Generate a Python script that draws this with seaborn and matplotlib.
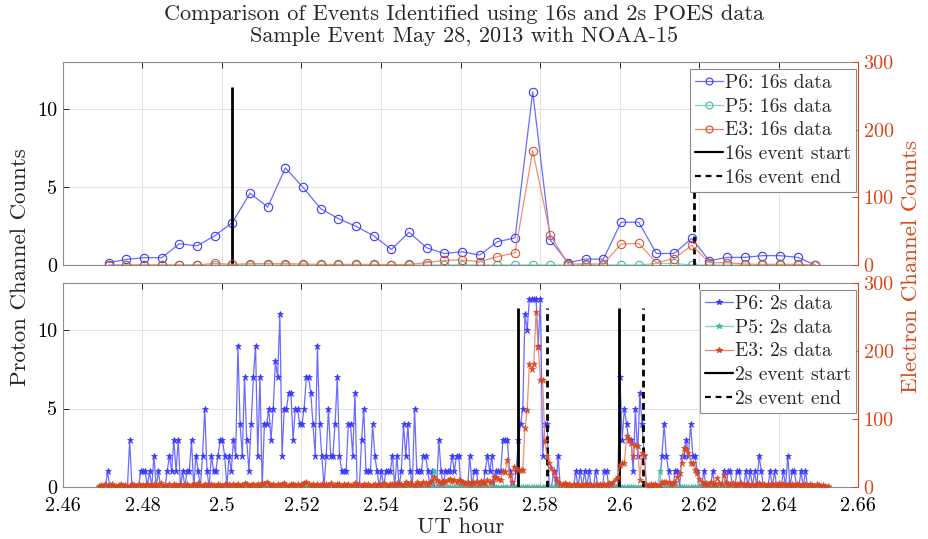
import numpy as np
import pandas as pd
import matplotlib
matplotlib.use("Agg")
import matplotlib.pyplot as plt
from matplotlib.lines import Line2D
import seaborn as sns

# ---------------- data ----------------
t0_16s = 2.4715          # first 16 s sample (UT hour)
step_16s = 16 / 3600.0
P6_16s = [0.15, 0.36, 0.47, 0.47, 1.36, 1.23, 1.87, 2.72, 4.6, 3.71,
          6.22, 4.97, 3.61, 2.97, 2.48, 1.87, 1.0, 2.1, 1.1, 0.74,
          0.85, 0.64, 1.49, 1.74, 11.08, 1.59, 0.15, 0.38, 0.38, 2.74,
          2.74, 0.74, 0.74, 1.7, 0.27, 0.49, 0.49, 0.6, 0.6, 0.49, 0.0]
P5_16s = [0, 0, 0, 0, 0, 0, 0, 0, 0, 0,
          0, 0, 0, 0, 0, 0, 0, 0, 0, 0,
          0, 0, 0, 0, 0, 0, 0, 0, 0, 0,
          0, 0.1, 0.1, 0, 0, 0, 0, 0, 0, 0, 0]
E3_16s = [0, 0, 0, 0, 0, 0, 2.5, 1, 2, 2,
          2, 1.5, 1, 1, 1, 1, 0.5, 1, 3.4, 7,
          7.4, 5, 12.3, 18, 169, 44, 1.5, 1.5, 1.5, 31,
          32, 3.4, 9.3, 29, 3.4, 3.4, 1.5, 1, 1, 1, 0]

t0_2s = 2.4690
step_2s = 2 / 3600.0
P6_2s = [0, 0, 0, 0, 1, 0, 0, 0, 0, 0,
         0, 0, 0, 0, 3, 0, 0, 0, 0, 1,
         1, 1, 0, 1, 0, 2, 0, 1, 0, 0,
         0, 1, 2, 1, 3, 1, 3, 0, 1, 0,
         1, 1, 3, 0, 2, 1, 0, 2, 5, 1,
         0, 2, 1, 1, 2, 3, 3, 2, 0, 2,
         1, 3, 2, 9, 4, 2, 7, 3, 1, 4,
         7, 9, 2, 7, 0, 4, 4, 5, 3, 5,
         8, 7, 11, 2, 5, 5, 6, 6, 3, 5,
         5, 4, 4, 5, 7, 7, 6, 4, 2, 9,
         4, 2, 0, 2, 5, 2, 2, 4, 7, 2,
         1, 1, 1, 4, 4, 2, 6, 0, 0, 3,
         5, 1, 1, 1, 4, 2, 1, 0, 1, 0,
         1, 1, 1, 2, 0, 2, 0, 1, 4, 2,
         4, 1, 0, 5, 1, 1, 1, 2, 2, 1,
         0, 1, 0, 0, 3, 1, 0, 1, 1, 1,
         2, 1, 2, 2, 0, 0, 0, 0, 2, 0,
         1, 1, 0, 0, 0, 1, 2, 1, 2, 0,
         1, 1, 1, 3, 3, 3, 1, 0, 0, 1,
         3, 4, 5, 11, 10, 12, 12, 12, 12, 9,
         12, 2, 4, 4, 0, 0, 1, 0, 2, 0,
         0, 0, 0, 0, 0, 0, 1, 0, 1, 0,
         1, 0, 1, 0, 0, 1, 0, 0, 0, 1,
         1, 0, 0, 0, 0, 0, 7, 3, 5, 4,
         3, 3, 1, 5, 2, 6, 4, 2, 0, 0,
         0, 0, 0, 0, 0, 2, 4, 2, 1, 0,
         0, 1, 1, 0, 2, 2, 3, 2, 4, 2,
         2, 1, 0, 0, 1, 0, 0, 0, 1, 0,
         0, 0, 0, 1, 0, 1, 1, 0, 0, 1,
         1, 0, 0, 1, 0, 1, 0, 1, 0, 2,
         1, 0, 0, 0, 1, 0, 1, 0, 0, 0,
         1, 0, 2, 0, 1, 1, 0, 0, 1, 0,
         1, 0, 0, 0, 0, 0, 0, 0, 0, 0, 0]
P5_2s = [0, 0, 0, 0, 0, 0, 0, 0, 0, 0,
         0, 0, 0, 0, 0, 0, 0, 0, 0, 0,
         0, 0, 0, 0, 0, 0, 0, 0, 0, 0,
         0, 0, 0, 0, 0, 0, 0, 0, 0, 0,
         0, 0, 0, 0, 0, 0, 0, 0, 0, 0,
         0, 0, 0, 0, 0, 0, 0, 0, 0, 0,
         0, 0, 0, 0, 0, 0, 0, 0, 0, 0,
         0, 0, 0, 0, 0, 0, 0, 0, 0, 0,
         0, 0, 0, 0, 0, 0, 0, 0, 0, 0,
         0, 0, 0, 0, 0, 0, 0, 0, 0, 0,
         0, 0, 0, 0, 0, 0, 0, 0, 0, 0,
         0, 0, 0, 0, 0, 0, 0, 0, 0, 0,
         0, 0, 0, 0, 0, 0, 0, 0, 0, 0,
         0, 0, 0, 0, 0, 0, 0, 0, 0, 0,
         0, 0, 0, 0, 0, 0, 0, 0, 0, 0,
         0, 0, 1, 0, 0, 0, 0, 0, 0, 0,
         0, 0, 0, 0, 0, 0, 0, 0, 0, 0,
         0, 0, 0, 0, 0, 0, 0, 0, 0, 0,
         0, 0, 0, 0, 0, 0, 0, 0, 0, 0,
         0, 0, 0, 0, 0, 0, 0, 0, 0, 0,
         0, 0, 0, 0, 0, 0, 0, 0, 0, 0,
         0, 0, 0, 0, 0, 0, 0, 0, 0, 0,
         0, 0, 0, 0, 0, 0, 0, 0, 0, 0,
         0, 0, 0, 0, 0, 0, 0, 0, 0, 0,
         0, 0, 0, 0, 0, 0, 0, 0, 0, 0,
         0, 0, 0, 0, 1, 0, 0, 0, 0, 0,
         0, 0, 0, 0, 0, 0, 0, 0, 0, 0,
         0, 0, 0, 0, 0, 0, 0, 0, 0, 0,
         0, 0, 0, 0, 0, 0, 0, 0, 0, 0,
         0, 0, 0, 0, 0, 0, 0, 0, 0, 0,
         0, 0, 0, 0, 0, 0, 0, 0, 0, 0,
         0, 0, 0, 0, 0, 0, 0, 0, 0, 0,
         0, 0, 0, 0, 0, 0, 0, 0, 0, 0, 0]
E3_2s = [2, 3, 1, 4, 2, 3, 5, 2, 1, 3,
         4, 2, 3, 1, 2, 5, 3, 2, 4, 1,
         3, 2, 5, 3, 1, 4, 2, 3, 6, 2,
         3, 1, 4, 2, 5, 3, 2, 4, 1, 3,
         5, 2, 3, 4, 2, 6, 3, 2, 4, 3,
         2, 5, 3, 1, 4, 3, 2, 5, 3, 4,
         2, 4, 3, 5, 2, 3, 6, 4, 2, 3,
         5, 3, 4, 2, 6, 4, 8, 5, 3, 4,
         2, 5, 3, 4, 6, 3, 2, 4, 5, 3,
         4, 2, 5, 6, 8, 4, 3, 5, 2, 4,
         3, 5, 2, 4, 3, 6, 2, 3, 5, 4,
         2, 4, 3, 5, 2, 3, 6, 3, 4, 2,
         5, 3, 4, 2, 3, 5, 2, 4, 3, 6,
         3, 2, 5, 4, 3, 6, 4, 5, 3, 7,
         4, 6, 5, 3, 7, 5, 4, 8, 6, 5,
         7, 9, 14, 11, 8, 6, 9, 7, 10, 12,
         9, 11, 8, 10, 9, 7, 6, 8, 5, 7,
         6, 8, 5, 9, 7, 6, 10, 7, 8, 14,
         15, 12, 10, 24, 22, 40, 18, 8, 30, 28,
         25, 25, 25, 87, 113, 181, 173, 181, 258, 206,
         157, 157, 67, 45, 35, 28, 22, 13, 8, 5,
         4, 6, 3, 5, 2, 4, 3, 5, 2, 3,
         4, 2, 5, 3, 2, 4, 3, 5, 2, 4,
         3, 6, 4, 8, 12, 15, 33, 35, 35, 75,
         70, 64, 45, 62, 61, 10, 50, 47, 5, 3,
         4, 3, 5, 2, 3, 8, 8, 7, 8, 5,
         6, 8, 15, 20, 35, 58, 56, 50, 35, 36,
         25, 20, 12, 8, 5, 6, 4, 7, 5, 4,
         13, 6, 5, 18, 7, 5, 4, 6, 3, 5,
         4, 6, 3, 5, 4, 2, 5, 3, 4, 6,
         3, 5, 2, 4, 3, 5, 4, 2, 6, 3,
         4, 3, 5, 2, 4, 3, 5, 4, 2, 3,
         4, 2, 5, 3, 2, 4, 3, 2, 3, 2, 1]

event_start_16s = [2.5024]
event_end_16s = [2.6188]
event_start_2s = [2.5745, 2.5998]
event_end_2s = [2.5818, 2.6059]
event_height = 11.4

x_ticks = [2.46, 2.48, 2.50, 2.52, 2.54, 2.56, 2.58, 2.60, 2.62, 2.64, 2.66]
x_tick_labels = ["2.46", "2.48", "2.5", "2.52", "2.54", "2.56", "2.58", "2.6", "2.62", "2.64", "2.66"]
left_ticks = [0, 5, 10]
right_ticks = [0, 100, 200, 300]

title_text = "Comparison of Events Identified using 16s and 2s POES data\nSample Event May 28, 2013 with NOAA-15"
labels_16 = ["P6: 16s data", "P5: 16s data", "E3: 16s data", "16s event start", "16s event end"]
labels_2 = ["P6: 2s data", "P5: 2s data", "E3: 2s data", "2s event start", "2s event end"]

# ---------------- style ----------------
sns.set_style("white")
plt.rcParams["font.family"] = ["cmr10", "DejaVu Serif"]
plt.rcParams["mathtext.fontset"] = "cm"
plt.rcParams["axes.formatter.use_mathtext"] = True
plt.rcParams["axes.unicode_minus"] = False

C_P6_LINE = "#6b6bff"
C_P6_MARK = "#3a3aff"
C_P5_LINE = "#7dd6c4"
C_P5_MARK = "#3fbfa3"
C_E3_LINE = "#ec8466"
C_E3_MARK = "#d9441c"
C_RIGHT = "#d9461b"
C_AX = "#262626"
C_GRID = "#e3e3e3"
TICK_FS = 14.5
LEG_FS = 14

t16 = t0_16s + np.arange(len(P6_16s)) * step_16s
t2 = t0_2s + np.arange(len(P6_2s)) * step_2s
df16 = pd.DataFrame({"t": t16, "P6": P6_16s, "P5": P5_16s, "E3": E3_16s})
df2 = pd.DataFrame({"t": t2, "P6": P6_2s, "P5": P5_2s, "E3": E3_2s})

fig = plt.figure(figsize=(9.29, 5.39), dpi=100)
ax1 = fig.add_axes([0.0678, 0.5083, 0.8558, 0.3766])
ax3 = fig.add_axes([0.0678, 0.0965, 0.8558, 0.3785])
ax2 = ax1.twinx()
ax4 = ax3.twinx()

dash = (0, (2.4, 1.6))

# top panel: 16 s data (open circles)
sns.lineplot(data=df16, x="t", y="P6", ax=ax1, color=C_P6_LINE, lw=0.9, marker="o",
             markersize=6, markerfacecolor="none", markeredgecolor=C_P6_MARK,
             markeredgewidth=0.8, legend=False)
sns.lineplot(data=df16, x="t", y="P5", ax=ax1, color=C_P5_LINE, lw=0.9, marker="o",
             markersize=6, markerfacecolor="none", markeredgecolor=C_P5_MARK,
             markeredgewidth=0.8, legend=False)
ax1.vlines(event_start_16s, 0, event_height, colors="k", lw=2)
ax1.vlines(event_end_16s, 0, event_height, colors="k", lw=2, linestyles=dash)
sns.lineplot(data=df16, x="t", y="E3", ax=ax2, color=C_E3_LINE, lw=0.9, marker="o",
             markersize=6, markerfacecolor="none", markeredgecolor=C_E3_MARK,
             markeredgewidth=0.8, alpha=0.9, legend=False)

# bottom panel: 2 s data (stars)
sns.lineplot(data=df2, x="t", y="P6", ax=ax3, color=C_P6_LINE, lw=0.9, marker="*",
             markersize=5, markerfacecolor=C_P6_MARK, markeredgecolor=C_P6_MARK,
             markeredgewidth=0.5, legend=False)
sns.lineplot(data=df2, x="t", y="P5", ax=ax3, color=C_P5_LINE, lw=0.9, marker="*",
             markersize=5, markerfacecolor=C_P5_MARK, markeredgecolor=C_P5_MARK,
             markeredgewidth=0.5, legend=False)
ax3.vlines(event_start_2s, 0, event_height, colors="k", lw=2)
ax3.vlines(event_end_2s, 0, event_height, colors="k", lw=2, linestyles=dash)
sns.lineplot(data=df2, x="t", y="E3", ax=ax4, color=C_E3_LINE, lw=0.9, marker="*",
             markersize=5, markerfacecolor=C_E3_MARK, markeredgecolor=C_E3_MARK,
             markeredgewidth=0.5, alpha=0.9, legend=False)

for axl, axr in [(ax1, ax2), (ax3, ax4)]:
    axl.set_xlim(x_ticks[0], x_ticks[-1])
    axl.set_ylim(0, 13)
    axr.set_ylim(right_ticks[0], right_ticks[-1])
    axl.set_xticks(x_ticks)
    axl.set_yticks(left_ticks)
    axr.set_yticks(right_ticks)
    axl.set_axisbelow(True)
    axl.grid(True, color=C_GRID, lw=0.8)
    axr.grid(False)
    axl.set_xlabel("")
    axl.set_ylabel("")
    axr.set_ylabel("")
    axl.tick_params(axis="both", direction="in", length=4, width=0.7, color=C_AX,
                    labelsize=TICK_FS, labelcolor="black", top=True, right=False, pad=4)
    axr.tick_params(axis="y", direction="in", length=4, width=0.7, color=C_RIGHT,
                    labelsize=TICK_FS, labelcolor=C_RIGHT, pad=4)
    for s in ["left", "top", "bottom"]:
        axl.spines[s].set_color("#8c8c8c")
        axl.spines[s].set_linewidth(0.8)
    axl.spines["right"].set_visible(False)
    for s in ["left", "top", "bottom"]:
        axr.spines[s].set_visible(False)
    axr.spines["right"].set_color(C_RIGHT)
    axr.spines["right"].set_linewidth(0.8)

ax1.set_xticklabels([])
ax3.set_xticklabels(x_tick_labels)
ax3.tick_params(axis="x", pad=7)
ax1.set_yticklabels([str(v) for v in left_ticks])
ax3.set_yticklabels([str(v) for v in left_ticks])
ax2.set_yticklabels([str(v) for v in right_ticks])
ax4.set_yticklabels([str(v) for v in right_ticks])


def legend_handles(marker, filled):
    fc_p6 = C_P6_MARK if filled else "none"
    fc_p5 = C_P5_MARK if filled else "none"
    fc_e3 = C_E3_MARK if filled else "none"
    ms = 4 if filled else 5
    return [
        Line2D([], [], color=C_P6_LINE, lw=0.9, marker=marker, ms=ms, mfc=fc_p6, mec=C_P6_MARK, mew=0.8),
        Line2D([], [], color=C_P5_LINE, lw=0.9, marker=marker, ms=ms, mfc=fc_p5, mec=C_P5_MARK, mew=0.8),
        Line2D([], [], color=C_E3_LINE, lw=0.9, marker=marker, ms=ms, mfc=fc_e3, mec=C_E3_MARK, mew=0.8),
        Line2D([], [], color="k", lw=1.6),
        Line2D([], [], color="k", lw=1.6, ls=(0, (2.6, 2.2))),
    ]


for axr, labs, mk, filled in [(ax2, labels_16, "o", False), (ax4, labels_2, "*", True)]:
    leg = axr.legend(legend_handles(mk, filled), labs, loc="upper right",
                     bbox_to_anchor=(0.9975, 0.965), fontsize=LEG_FS, frameon=True,
                     fancybox=False, framealpha=1, edgecolor="#8c8c8c",
                     borderpad=0.25, labelspacing=0.3, handlelength=1.45,
                     handletextpad=0.1, borderaxespad=0.0)
    leg.get_frame().set_linewidth(0.8)

fig.suptitle(title_text, fontsize=16, y=0.992, linespacing=1.2)
fig.text(0.022, 0.505, "Proton Channel Counts", rotation=90, ha="center", va="center", fontsize=16.5)
fig.text(0.981, 0.505, "Electron Channel Counts", rotation=90, ha="center", va="center",
         fontsize=16.5, color=C_RIGHT)
fig.text(0.4953, 0.022, "UT hour", ha="center", va="center", fontsize=16.5)

fig.savefig("out.png", dpi=100)
